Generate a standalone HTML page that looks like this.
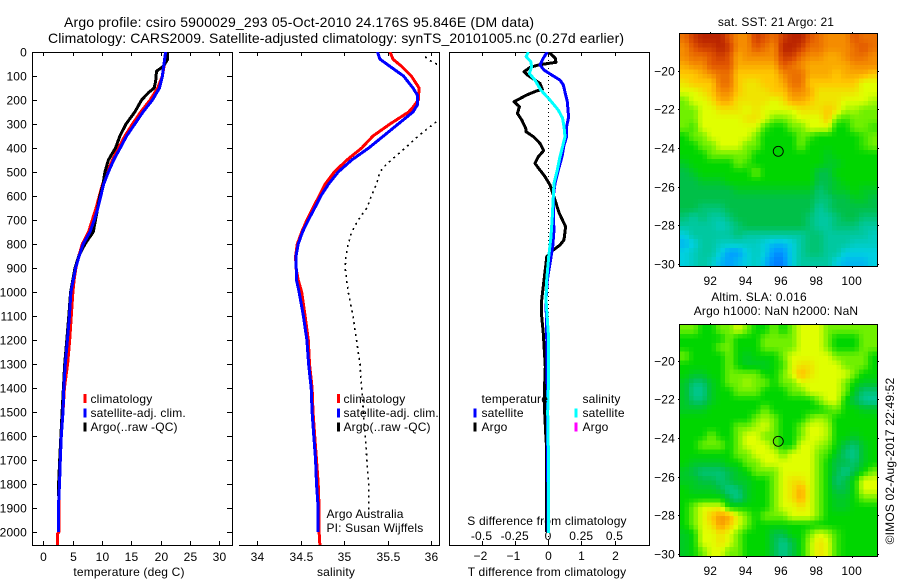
<!DOCTYPE html>
<html>
<head>
<meta charset="utf-8">
<title>Argo profile</title>
<style>
html,body{margin:0;padding:0;background:#fff;width:900px;height:580px;overflow:hidden}
svg{display:block}
text{font-family:"Liberation Sans",sans-serif;font-size:12px;fill:#000;letter-spacing:.17px}
</style>
</head>
<body>
<svg id="chart" xmlns="http://www.w3.org/2000/svg" width="900" height="580" viewBox="0 0 900 580">
<rect width="900" height="580" fill="#fff"/>
<text x="299" y="27" text-anchor="middle" textLength="470" lengthAdjust="spacing" style="font-size:14px;letter-spacing:0">Argo profile: csiro 5900029_293 05-Oct-2010 24.176S 95.846E (DM data)</text>
<text x="336" y="43" text-anchor="middle" textLength="576" lengthAdjust="spacing" style="font-size:14px;letter-spacing:0">Climatology: CARS2009. Satellite-adjusted climatology: synTS_20101005.nc (0.27d earlier)</text>
<text x="129" y="576" text-anchor="middle">temperature (deg C)</text>
<text x="336" y="576" text-anchor="middle">salinity</text>
<text x="547" y="576" text-anchor="middle">T difference from climatology</text>
<text x="547" y="525" text-anchor="middle">S difference from climatology</text>
<text x="326.5" y="518">Argo Australia</text>
<text x="326.5" y="532">PI: Susan Wijffels</text>
<text x="776" y="26" text-anchor="middle">sat. SST: 21 Argo: 21</text>
<text x="759" y="301" text-anchor="middle">Altim. SLA: 0.016</text>
<text x="776" y="315" text-anchor="middle">Argo h1000: NaN h2000: NaN</text>
<text transform="translate(894,461) rotate(-90)" text-anchor="middle">©IMOS 02-Aug-2017 22:49:52</text>
</svg>
<script>
// Shared depth axis
const depthTicks = [0,100,200,300,400,500,600,700,800,900,1000,1100,1200,1300,1400,1500,1600,1700,1800,1900,2000];
const tempTicks = [0,5,10,15,20,25,30];
const salTicks = [34,34.5,35,35.5,36];
const salTickLabels = ['34','34.5','35','35.5','36'];
const tDiffTicks = [-2,-1,0,1,2];
const tDiffLabels = ['−2','−1','0','1','2'];
const sDiffTicks = [-0.5,-0.25,0,0.25,0.5];
const sDiffLabels = ['-0.5','-0.25','0','0.25','0.5'];
const lonTicks = [92,94,96,98,100];
const latTicks = [-20,-22,-24,-26,-28,-30];
const latLabels = ['−20','−22','−24','−26','−28','−30'];

// Temperature panel
const tempClimDepth = [0,100,150,200,250,300,350,400,450,500,550,600,650,700,750,800,850,900,950,1000,1100,1200,1300,1400,1500,1600,1700,1800,1900,2000,2010,2055];
const tempClim = [21.0,20.3,19.5,18.2,16.6,15.2,13.9,12.8,11.8,10.9,10.1,9.55,9.0,8.35,7.7,6.65,6.05,5.55,5.25,5.05,4.77,4.5,4.15,3.6,3.35,3.07,2.9,2.73,2.65,2.65,2.39,2.39];
const tempSatDepth = [0,100,150,200,250,300,350,400,450,500,550,600,650,700,750,800,850,900,950,1000,1100,1200,1300,1400,1500,1600,1700,1800,1900,2000];
const tempSat = [20.85,20.3,19.8,18.6,17.0,15.6,14.2,13.1,12.0,11.1,10.3,9.8,9.3,8.7,7.95,6.8,6.1,5.5,5.1,4.7,4.45,4.1,3.75,3.5,3.35,3.07,2.9,2.76,2.58,2.58];
const tempArgoDepth = [0,30,60,80,120,150,170,200,250,300,350,400,450,500,550,600,700,750,800,850,900,1000,1100,1200,1300,1400,1500,1600,1700,1800,1850];
const tempArgo = [21.2,21.2,20.45,19.3,19.15,18.9,17.9,16.75,15.6,14.1,13.05,12.3,11.1,10.5,10.2,9.65,8.9,8.5,7.1,6.05,5.4,4.65,4.35,4.0,3.65,3.42,3.2,3.0,2.8,2.6,2.58];

// Salinity panel
const salClimDepth = [0,30,60,100,150,200,230,250,300,350,400,450,500,550,600,650,700,750,800,850,900,950,1000,1100,1200,1300,1400,1500,1600,1700,1800,1900,2000,2055];
const salClim = [35.525,35.56,35.66,35.77,35.86,35.85,35.79,35.74,35.525,35.33,35.2,35.03,34.885,34.78,34.71,34.64,34.57,34.51,34.46,34.44,34.445,34.47,34.51,34.55,34.586,34.6,34.63,34.64,34.66,34.68,34.7,34.71,34.71,34.72];
const salSatDepth = [0,30,60,100,150,180,220,250,300,350,400,450,500,550,600,650,700,750,800,850,950,1000,1100,1200,1300,1400,1500,1600,1700,1800,1900,2000];
const salSat = [35.38,35.41,35.525,35.68,35.79,35.84,35.84,35.79,35.62,35.45,35.28,35.085,34.93,34.82,34.73,34.66,34.586,34.52,34.47,34.445,34.45,34.48,34.53,34.57,34.59,34.62,34.63,34.65,34.67,34.68,34.7,34.7];
const salArgoDepth = [20,35,50,60,150,250,285,290,350,400,450,480,500,550,600,650,700,750,800,850,900,1000,1100,1200,1300,1400,1500,1600,1700,1800,1900,1930];
const salArgo = [35.93,35.98,36.06,36.2,36.7,36.5,36.12,36.06,35.85,35.7,35.54,35.45,35.41,35.37,35.31,35.26,35.16,35.085,35.045,35.02,35.01,35.045,35.1,35.14,35.18,35.2,35.22,35.24,35.26,35.28,35.28,35.28];

// Difference panel
const diffTSatDepth = [0,26,54,75,96,117,137,172,207,272,311,353,388,436,492,547,603,686,742,811,881,950,1033,1172,1400,2000];
const diffTSat = [-0.02,-0.14,-0.24,-0.12,0.11,0.36,0.46,0.52,0.58,0.62,0.56,0.56,0.48,0.42,0.31,0.21,0.16,0.16,0.18,0.14,0.06,-0.02,-0.06,-0.04,-0.02,0];
const diffTArgoDepth = [0,12,26,43,51,54,64,82,96,117,131,156,162,179,207,228,256,283,318,332,353,381,411,436,464,492,519,554,582,617,672,728,783,804,825,853,881,950,1033,1089,1172,1242,1311,1381,1506,1589,1658,2000];
const diffTArgo = [0.04,0.11,0.22,0.24,-0.14,-0.29,-0.54,-0.72,-0.62,-0.39,-0.24,-0.17,-0.34,-0.64,-1.02,-0.86,-0.92,-0.79,-0.67,-0.66,-0.44,-0.24,-0.13,-0.29,-0.39,-0.24,-0.09,0.06,0.13,0.21,0.34,0.53,0.48,0.36,0.16,-0.04,-0.06,-0.12,-0.19,-0.2,-0.14,-0.11,-0.08,-0.1,-0.1,-0.07,-0.04,-0.04];
const diffSSatDepth = [0,19,40,61,89,117,158,200,242,276,311,353,394,436,492,547,603,686,769,853,950,1033,1172,1400,1500,1650,2005];
const diffSSat = [-0.1475,-0.165,-0.13,-0.1225,-0.14,-0.0975,-0.055,0.015,0.0775,0.11,0.12,0.1275,0.11,0.09,0.07,0.045,0.04,0.0325,0.0225,0.005,-0.01,-0.015,0.0025,0.0025,-0.002,0.002,0.005];

// Map fields: rows run north to south, columns west to east (colour-scale levels)
const sstLevels = [
[9.5,10.5,11,11,11,10,9,9,10.5,10,9.5,10.5,11,11,10,9.5,9,9,9,10,9.5,9.5],
[9,10,10.5,10.5,11,10.5,9,9,10,9.5,9,11,11,10.5,9.5,9.5,9,9,9,9.5,10,9.5],
[9,9.5,9.5,10,10.5,10,8.5,9,9,9,9,10.5,10.5,9.5,9,9,8.5,8.5,9,9.5,9.5,9],
[8.5,9,9,10,10,10,8.5,8.5,8.5,8.5,8.5,10,9.5,9,8.5,8.5,8.5,8.5,8.5,9,9,9],
[8,8,8.5,9,9.5,9.5,8,8,8,8,8,9,9.5,9.5,8.5,8.5,8.5,8,8.5,8.5,8.5,8],
[7.5,8,8,8,9.5,9.5,8,7.5,7.5,8,8,8.5,9.5,9.5,8,8,8,8,8,8,7,7],
[7,7,7.5,8,9,9,8,7.5,7.5,7.5,8,8,9,9,8.5,7.5,7.5,7.5,7.5,7.5,7,7],
[6,7,7,7.5,8.5,8.5,7.5,7.5,7.5,7.5,7,7.5,8.5,8.5,8,7.5,7.5,7.5,7,7,7,6.5],
[6,6,7,7,7.5,7.5,7.5,7,7.5,7,7,7,7,7.5,7.5,7.5,8,7.5,6.5,6.5,6,6],
[6,6,7,7,7,7,7,7.5,7.5,7,6,6,6.5,7,7,7,8,6,5.5,6,6,6],
[6,5.5,7,7,7,7,7,7,7,5.5,5,5,6,6,7,7,7,5,5,6,6,5.5],
[5,6,6,7,7,7,7,7,6,5,5,5,5,6,5.5,5,5,5,5,5,5.5,6],
[5,5,6,6,7,7,7,6,6,5,5,5,5,6,5,5,5,5,5,5,5.5,6],
[5,5,5,6,6,6,6,6,5,5,5,5,5,5,5,5,4.5,5,5,5,5,5],
[4.5,5,5,5,5,5,6,5.5,5,5,5,5,5,5,5,5,4.5,4.5,5,5,5,5],
[4,4.5,5,5,5,5,5,5,6,5,5,5,5,5,5,4,4,5,5,5,5,5],
[4,4,4.5,4.5,4.5,5,5,5,5,5,5,5,5,5,5,4,4,4.5,5,5,5,5],
[4,4,4,4,4,4,4.5,4.5,4.5,4.5,4.5,4.5,4.5,4.5,4.5,3.5,4,4.5,4.5,5,4.5,4.5],
[4,4,4,4,4,4,4,4,4,4,4,4,4,4,4,3.5,3.5,4,4,4.5,4.5,4],
[4,4,3.5,3.5,3.5,4,4,4,4,4,4,4,4,4,4,3,3.5,4,4,4,4,4],
[3.5,3,3.5,3,3,3.5,4,4,4,4,4,4,4,4,3.5,3,3,3.5,4,4,3.5,3.5],
[3,3,3,3,2.5,3,3.5,4,4,4,4,4,4,4,3.5,3,3,3.5,3.5,3.5,3,3],
[2,3,3,3,3,3,3.5,3,3,3,3,3,3,3,3.5,3.5,3,3,3,3,3,2.5],
[1.5,2,3,3,2.5,2.5,2.5,2.5,2.5,2,1.5,1.5,2,3,3.5,3.5,3,3,3,2.5,2.5,2.5],
[2,2.5,3,3,2,1,1,2,2.5,2,0.8,0.8,2,3,3.5,3.5,3,3,2,2,2,2],
[2,2.5,3,2.5,1.5,1,1.5,2,2.5,1.5,0.5,0.5,2,3,3,3,3,2,1.5,1.5,1.5,2]
];
const slaLevels = [
[6,6,5,5,6,6,7,6,5,5,6,5,6,7,7,7,6,6,6,6,6,6],
[5,5,5,5,5,6,5,5,5,6,6,6,6,7,7,7,6,5,5,5,6,6],
[5,5,5,5,6,6,5,5,5,6,6,6,6,7,7,7,6,5,5,5,6,6],
[6,5,5,5,5,6,5,4.5,5,5,5,6,7,7,7,7,7,6,6,6,6,5],
[5,5,5,5,5,6,5,4.5,4.5,4.5,5,5.5,7,7.5,7.5,7,7,7,6,6,6,5],
[5,4.5,4.5,5,5,6,6,6,6,5,5,6,7,8.3,7.5,7,7,7,7,6,5,5],
[4.5,3.5,3.5,4.5,5,6,6,6.5,6,6,5,6,6,7,7,7,7,7,6,5,4.5,4.5],
[4.5,3.2,3.2,4.5,5,5,6,6,6,5,5,5,6,6,7,7,7,7,6,4.5,3.5,3.5],
[4.5,3.5,3.5,4.5,5,5,5,5,5,5,5,5,5,5,5,6,7,7,5,4,3.2,3],
[4.5,4.5,4.5,5,5,5,5,5,5,6,5,5,5,5,5,5,5.5,6,5,5,4.5,4.5],
[5,5,5,5,5,5,5,5,6,6.5,6,5,5,5,6,6.5,6,5,5,5,5,5],
[5,5,5,5,5,5,6,6,6.5,7,6,5,5,6,7,7,6.5,5,5,5,5,5],
[5,5,5,6,5,5,6,7,7,6,6,5,5,6,7,7,6.5,5,5,4.5,5,5],
[5,5,6,6,6,5,6,7,7,7,6,5,5,7,7,6.5,6,5,4,3.5,4.5,5],
[5,5,5,5,5,5,6,6,7,7,7,6,7,7,7,6,5.5,4.5,3.5,3.2,4.5,5],
[5,4.5,4.5,4.5,4.5,5,5,6,6,7,7,7,7,7,7,6,5,4,4,3.5,4.5,5],
[4.5,4,3.5,3.5,3.5,4,4.5,5,6,6,6,7,7,7,7,6,5,4,3.2,4,5,6],
[4.5,4.5,4,4,3.5,4,4.5,4.5,5,5,6,7,7.5,7.5,7,6,5,3.5,4,5,7,7],
[5,4.5,4.5,4.5,4,3.2,3.5,4.5,5,5,6,7,7.5,8.5,7,6,5,4,4,5,7,7],
[5,5,5,5,5,4,3.2,4.5,5,5,6,7,7.5,8.5,7,6,5,4.5,4.5,5,6,6],
[5,6,7,7,7,5,5,5,5,5,6,7,7,7.5,7,6,5,4.5,4.5,5,5,5],
[5,6,7,8,8.8,8.5,7,6,5,6,6,6,7,7,7,6,5,5,5,5,5,5],
[5,6,7,7.5,8.8,8,7,6,5,5,5,5,5,5,5,5,5,5,5,5,5,5],
[4.5,5,7,7,7.5,7,6,5,5,5,4,4,5,5,6,7,6.5,5.5,5,5,5,5],
[4.5,5,7,7,7.5,7,6,5,5,5,4,3.2,4,5,6.5,7.5,7,5.5,5,5,5,5],
[4.5,5,6,7,7,6,6,5,5,5,4,3.2,4,5,6.5,7.5,7,5.5,5,5,5,5]
];

const svg = document.getElementById('chart');
const NS = 'http://www.w3.org/2000/svg';
function mk(tag, attrs, parent){
  const el = document.createElementNS(NS, tag);
  for (const k in attrs) el.setAttribute(k, attrs[k]);
  (parent || svg).appendChild(el);
  return el;
}
function named(el, name){
  
  
  return el;
}
function label(parent, x, y, str, anchor, name){
  const t = mk('text', {x:x, y:y, 'text-anchor':anchor}, parent);
  t.textContent = str;
  named(t, name);
  return t;
}

const plotTop = 52, plotBottom = 545;
const yDepth = d => plotTop + d * 0.24;
const xTemp = v => 43.3 + v * 5.867;
const xSal = v => 257.3 + (v - 34) * 87;
const xDiffT = v => 548 + v * 33.25;
const xDiffS = v => 548 + v * 133;

function addClip(id, x0, x1){
  const defs = mk('defs', {});
  const c = mk('clipPath', {id:id}, defs);
  mk('rect', {x:x0, y:plotTop, width:x1-x0, height:plotBottom-plotTop}, c);
}
function series(parent, xs, ds, xf, color, name, extra){
  const pts = xs.map((v,i) => xf(v).toFixed(1) + ',' + yDepth(ds[i]).toFixed(1)).join(' ');
  const attrs = {points:pts, fill:'none', stroke:color, 'stroke-width':3, 'stroke-linejoin':'round', 'shape-rendering':'crispEdges'};
  if (extra) for (const k in extra) attrs[k] = extra[k];
  return named(mk('polyline', attrs, parent), name);
}
function seg(parent, x1, y1, x2, y2, name){
  return named(mk('line', {x1:x1, y1:y1, x2:x2, y2:y2, stroke:'#000', 'stroke-width':1, 'shape-rendering':'crispEdges'}, parent), name);
}
function legendBar(parent, x, y, color, name){
  return named(mk('rect', {x:x, y:y-4.5, width:3, height:9, fill:color}, parent), name);
}

/* Temperature panel */
const g1 = named(mk('g', {}), 'temperature-panel');
addClip('clip1', 32, 232);
seg(g1, 32.5, plotTop, 32.5, plotBottom, 'temperature-left-axis');
seg(g1, 232.5, plotTop, 232.5, plotBottom, 'temperature-right-axis');
seg(g1, 32, 52.5, 233, 52.5, 'temperature-top-axis');
seg(g1, 32, 545.5, 233, 545.5, 'temperature-bottom-axis');
depthTicks.forEach(d => {
  const y = Math.round(yDepth(d)) + 0.5;
  seg(g1, 32, y, 37, y, 'depth-tick-left');
  seg(g1, 227, y, 232, y, 'depth-tick-right');
  label(g1, 27, y + 4, String(d), 'end', 'depth-tick-label');
});
tempTicks.forEach(v => {
  const x = Math.round(xTemp(v)) + 0.5;
  seg(g1, x, 52, x, 56, 'temperature-tick-top');
  seg(g1, x, 541, x, 545, 'temperature-tick-bottom');
  label(g1, x, 561, String(v), 'middle', 'temperature-tick-label');
});
const s1 = mk('g', {'clip-path':'url(#clip1)'}, g1);
series(s1, tempClim, tempClimDepth, xTemp, '#ff0000', 'temperature-climatology-line');
series(s1, tempArgo, tempArgoDepth, xTemp, '#000000', 'temperature-argo-line');
series(s1, tempSat, tempSatDepth, xTemp, '#0000ff', 'temperature-satellite-line');
legendBar(g1, 83.5, 398.5, '#ff0000', 'temperature-legend-climatology-swatch');
legendBar(g1, 83.5, 413, '#0000ff', 'temperature-legend-satellite-swatch');
legendBar(g1, 83.5, 427, '#000000', 'temperature-legend-argo-swatch');
label(g1, 90.5, 403, 'climatology', 'start', 'temperature-legend-climatology');
label(g1, 90.5, 417, 'satellite-adj. clim.', 'start', 'temperature-legend-satellite');
label(g1, 90.5, 431, 'Argo(..raw -QC)', 'start', 'temperature-legend-argo');

/* Salinity panel */
const g2 = named(mk('g', {}), 'salinity-panel');
addClip('clip2', 239, 439);
seg(g2, 439.5, plotTop, 439.5, plotBottom, 'salinity-right-axis');
seg(g2, 239, 52.5, 440, 52.5, 'salinity-top-axis');
seg(g2, 239, 545.5, 440, 545.5, 'salinity-bottom-axis');
salTicks.forEach((v,i) => {
  const x = Math.round(xSal(v)) + 0.5;
  seg(g2, x, 52, x, 56, 'salinity-tick-top');
  seg(g2, x, 541, x, 545, 'salinity-tick-bottom');
  label(g2, x, 561, salTickLabels[i], 'middle', 'salinity-tick-label');
});
const s2 = mk('g', {'clip-path':'url(#clip2)'}, g2);
series(s2, salClim, salClimDepth, xSal, '#ff0000', 'salinity-climatology-line');
series(s2, salSat, salSatDepth, xSal, '#0000ff', 'salinity-satellite-line');
series(s2, salArgo, salArgoDepth, xSal, '#000000', 'salinity-argo-dotted-line', {'stroke-width':1.6, 'stroke-dasharray':'2 4'});
legendBar(g2, 337, 398.5, '#ff0000', 'salinity-legend-climatology-swatch');
legendBar(g2, 337, 413, '#0000ff', 'salinity-legend-satellite-swatch');
legendBar(g2, 337, 427, '#000000', 'salinity-legend-argo-swatch');
label(g2, 343.5, 403, 'climatology', 'start', 'salinity-legend-climatology');
label(g2, 343.5, 417, 'satellite-adj. clim.', 'start', 'salinity-legend-satellite');
label(g2, 343.5, 431, 'Argo(..raw -QC)', 'start', 'salinity-legend-argo');

/* Difference panel */
const g3 = named(mk('g', {}), 'difference-panel');
addClip('clip3', 449, 650);
seg(g3, 449.5, plotTop, 449.5, plotBottom, 'difference-left-axis');
seg(g3, 649.5, plotTop, 649.5, plotBottom, 'difference-right-axis');
seg(g3, 449, 52.5, 650, 52.5, 'difference-top-axis');
seg(g3, 449, 545.5, 650, 545.5, 'difference-bottom-axis');
tDiffTicks.forEach((v,i) => {
  const x = Math.round(xDiffT(v)) + 0.5;
  seg(g3, x, 52, x, 56, 'difference-tick-top');
  seg(g3, x, 541, x, 545, 'difference-tick-bottom');
  label(g3, v < 0 ? x - 2 : x, 560, tDiffLabels[i], 'middle', 't-difference-tick-label');
});
sDiffTicks.forEach((v,i) => {
  label(g3, xDiffS(v), 540, sDiffLabels[i], 'middle', 's-difference-tick-label');
});
named(mk('line', {x1:548.5, y1:yDepth(0), x2:548.5, y2:plotBottom, stroke:'#000', 'stroke-width':1, 'stroke-dasharray':'1 3', 'shape-rendering':'crispEdges'}, g3), 'zero-difference-line');
const s3 = mk('g', {'clip-path':'url(#clip3)'}, g3);
series(s3, diffTArgo, diffTArgoDepth, xDiffT, '#000000', 't-difference-argo-line');
series(s3, diffTSat, diffTSatDepth, xDiffT, '#0000ff', 't-difference-satellite-line');
series(s3, diffSSat, diffSSatDepth, xDiffS, '#00ffff', 's-difference-satellite-line');
label(g3, 481.5, 403, 'temperature', 'start', 'difference-legend-temperature-header');
label(g3, 481.5, 417, 'satellite', 'start', 'difference-legend-temperature-satellite');
label(g3, 481.5, 431, 'Argo', 'start', 'difference-legend-temperature-argo');
label(g3, 582.5, 403, 'salinity', 'start', 'difference-legend-salinity-header');
label(g3, 582.5, 417, 'satellite', 'start', 'difference-legend-salinity-satellite');
label(g3, 582.5, 431, 'Argo', 'start', 'difference-legend-salinity-argo');
legendBar(g3, 473.5, 413, '#0000ff', 'difference-legend-temperature-satellite-swatch');
legendBar(g3, 473.5, 427, '#000000', 'difference-legend-temperature-argo-swatch');
legendBar(g3, 574.5, 413, '#00ffff', 'difference-legend-salinity-satellite-swatch');
legendBar(g3, 574.5, 427, '#ff00ff', 'difference-legend-salinity-argo-swatch');

/* Maps */
const rampStops = [[0,0,96,255],[1,0,160,255],[2,0,208,224],[3,0,200,160],[4,0,192,72],[5,0,214,0],[6,112,240,0],[7,224,255,0],[8,255,200,0],[9,245,140,0],[10,225,85,0],[11,185,35,0]];
function levelColor(v){
  const c = Math.max(0, Math.min(11, v));
  const i = Math.min(10, Math.floor(c));
  const f = c - i;
  const a = rampStops[i], b = rampStops[i+1];
  const ch = k => Math.round(a[k] + (b[k]-a[k]) * f);
  return 'rgb(' + ch(1) + ',' + ch(2) + ',' + ch(3) + ')';
}
function sampleField(field, u, v){
  const rows = field.length, cols = field[0].length;
  const fx = Math.max(0, Math.min(cols - 1, u * cols - 0.5));
  const fy = Math.max(0, Math.min(rows - 1, v * rows - 0.5));
  const x0 = Math.floor(fx), y0 = Math.floor(fy);
  const x1 = Math.min(cols - 1, x0 + 1), y1 = Math.min(rows - 1, y0 + 1);
  const dx = fx - x0, dy = fy - y0;
  return (field[y0][x0]*(1-dx) + field[y0][x1]*dx)*(1-dy) + (field[y1][x0]*(1-dx) + field[y1][x1]*dx)*dy;
}
const xLon = lon => 710.3 + (lon - 92) * 17.67;
function drawMap(field, box, yLat, key){
  const g = named(mk('g', {}), key + '-map');
  const w = box.x1 - box.x0, h = box.y1 - box.y0;
  const nx = field[0].length * 2, ny = field.length * 2;
  for (let r = 0; r < ny; r++) {
    for (let c = 0; c < nx; c++) {
      const val = sampleField(field, (c + 0.5) / nx, (r + 0.5) / ny);
      const x = box.x0 + c * w / nx, y = box.y0 + r * h / ny;
      const cell = mk('rect', {x:x.toFixed(1), y:y.toFixed(1), width:(w/nx + 0.6).toFixed(1), height:(h/ny + 0.6).toFixed(1), fill:levelColor(val), 'shape-rendering':'crispEdges'}, g);
      
      
    }
  }
  named(mk('rect', {x:box.x0 - 0.5, y:box.y0 - 0.5, width:w + 1, height:h + 1, fill:'none', stroke:'#000', 'stroke-width':1, 'shape-rendering':'crispEdges'}, g), key + '-map-frame');
  lonTicks.forEach(lon => {
    const x = Math.round(xLon(lon)) + 0.5;
    seg(g, x, box.y0 - 2, x, box.y0, key + '-lon-tick-top');
    seg(g, x, box.y1, x, box.y1 + 2, key + '-lon-tick-bottom');
    label(g, xLon(lon), box.y1 + 19, String(lon), 'middle', key + '-lon-label');
  });
  latTicks.forEach((lat,i) => {
    const y = Math.round(yLat(lat)) + 0.5;
    seg(g, box.x0 - 2, y, box.x0, y, key + '-lat-tick-left');
    seg(g, box.x1, y, box.x1 + 2, y, key + '-lat-tick-right');
    label(g, 675, y + 4, latLabels[i], 'end', key + '-lat-label');
  });
  named(mk('circle', {cx:xLon(95.846), cy:yLat(-24.176), r:5, fill:'none', stroke:'#000', 'stroke-width':0.9}, g), key + '-argo-position-marker');
}
drawMap(sstLevels, {x0:680, x1:877, y0:34, y1:266}, lat => 70.5 + (-20 - lat) * 19.35, 'sst');
drawMap(slaLevels, {x0:680, x1:877, y0:325, y1:556}, lat => 360.5 + (-20 - lat) * 19.35, 'sla');
</script>
</body>
</html>
